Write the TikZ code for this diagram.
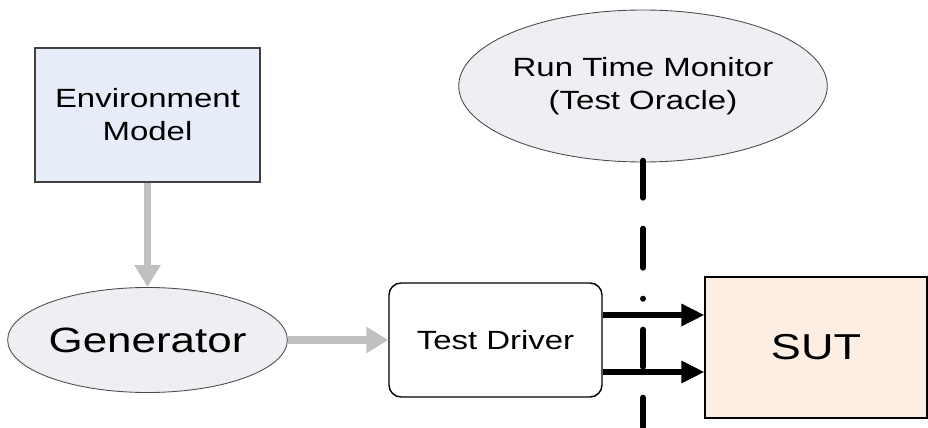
\documentclass[tikz,border=0pt]{standalone}
\usepackage{fontspec}
\setmainfont{Liberation Sans}[FakeStretch=1.25]
\usepackage{tikz}
\usepackage{xcolor}
\usetikzlibrary{shapes,arrows.meta,positioning}
\definecolor{envblue}{HTML}{E6EDF8}
\definecolor{ellgray}{HTML}{EFEEF3}
\definecolor{sutpeach}{HTML}{FDEEE3}
\definecolor{arrgray}{HTML}{C0C0C0}

\begin{document}
\begin{tikzpicture}
  [auto=left,
   box/.style={rectangle,draw=black!75,line width=0.6pt,align=center,font=\fontsize{15}{18.8}\selectfont},
   oval/.style={ellipse,draw=black!70,line width=0.5pt,fill=ellgray,align=center,inner sep=0pt},
   grayarrow/.style={draw=arrgray,line width=4.4pt,-{Triangle[length=0.44cm,width=0.5cm]}},
   blackarrow/.style={draw=black,line width=3.8pt,-{Triangle[length=0.46cm,width=0.42cm]}}]
  \useasboundingbox (0,0) rectangle (18.56,8.54);
  \node[box,fill=envblue,minimum width=4.5cm,minimum height=2.68cm] (env) at (2.95,6.24) {Environment\\Model};
  \node[oval,minimum width=5.5cm,minimum height=2.1cm,font=\fontsize{20}{24}\selectfont] (gen) at (2.95,1.74) {Generator};
  \node[box,draw=black,line width=0.8pt,rounded corners=0.24cm,minimum width=4.26cm,minimum height=2.28cm] (drv) at (9.91,1.74) {Test Driver};
  \node[oval,minimum width=6.76cm,minimum height=3.04cm,font=\fontsize{15}{18.8}\selectfont] (mon) at (12.86,6.82) {Run Time Monitor\\(Test Oracle)};
  \node[box,draw=black,fill=sutpeach,minimum width=4.44cm,minimum height=2.82cm,font=\fontsize{20.5}{24}\selectfont] (sut) at (16.32,1.59) {SUT};
  \coordinate (bot) at (12.86,0);

  \draw[line width=3.4pt,line cap=round,dash pattern=on 0.74cm off 0.62cm on 0.78cm off 0.62cm on 0cm off 0.62cm] ([yshift=1pt]mon.south) -- (bot);

  \foreach \from/\to in {env/gen,gen/drv}
    \draw[grayarrow] (\from) -- (\to);

  \foreach \h in {2.24,1.10}
    \draw[blackarrow] (drv.east |- 0,\h) -- (sut.west |- 0,\h);
\end{tikzpicture}
\end{document}
